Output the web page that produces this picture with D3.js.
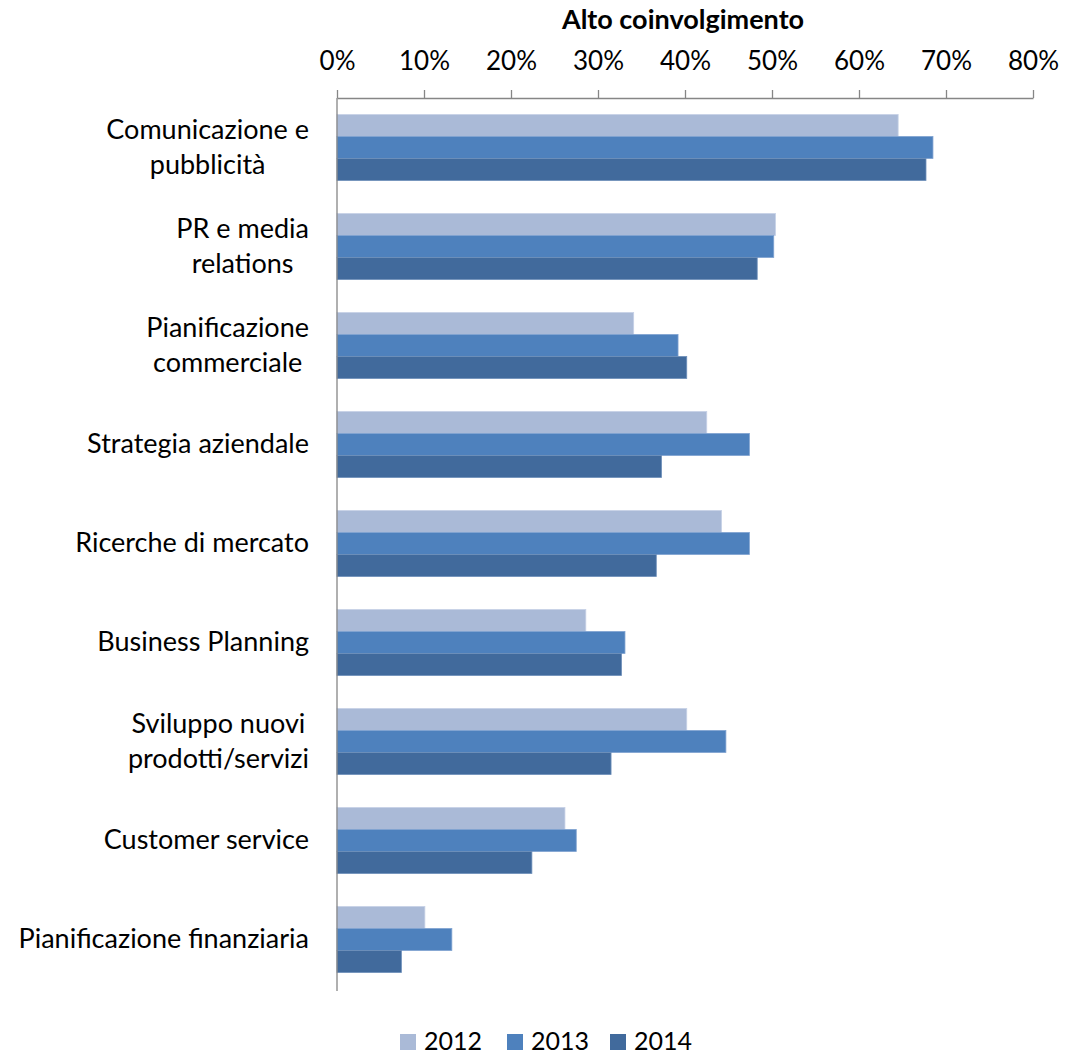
<!DOCTYPE html>
<html><head><meta charset="utf-8">
<script src="https://cdn.jsdelivr.net/npm/d3@7"></script>
<style>body{margin:0;background:#fff;} svg{display:block;}</style>
</head><body>
<svg id="c" width="1076" height="1056"></svg>
<script>
const categories = [
  ["Comunicazione e", "pubblicità"],
  ["PR e media", "relations"],
  ["Pianificazione", "commerciale"],
  ["Strategia aziendale"],
  ["Ricerche di mercato"],
  ["Business Planning"],
  ["Sviluppo nuovi ", "prodotti/servizi"],
  ["Customer service"],
  ["Pianificazione finanziaria"]
];
const seriesNames = ["2012", "2013", "2014"];
const values2012 = [64.5, 50.4, 34.1, 42.5, 44.2, 28.6, 40.2, 26.2, 10.1];
const values2013 = [68.5, 50.2, 39.2, 47.4, 47.4, 33.1, 44.7, 27.5, 13.2];
const values2014 = [67.7, 48.3, 40.2, 37.3, 36.7, 32.7, 31.5, 22.4, 7.4];
const tickValues = [0, 10, 20, 30, 40, 50, 60, 70, 80];
const title = "Alto coinvolgimento";

const colors = ["#AABAD7", "#4E81BD", "#416A9C"];
const strokes = ["#C6D1E6", "#7FA2D0", "#6E8FBA"];
const series = [values2012, values2013, values2014];
const FONT = "Lato, 'Open Sans', sans-serif";

const svg = d3.select("#c");
const pLeft = 337, pRight = 1033, pTop = 98, pBottom = 989;

const x = d3.scaleLinear().domain([0, 80]).range([pLeft, pRight]);
const y = d3.scaleBand().domain(d3.range(categories.length)).range([pTop, pBottom])
  .paddingInner(1/3).paddingOuter(1/6);
const ys = d3.scaleBand().domain(d3.range(3)).range([0, y.bandwidth()]);

// bars
series.forEach((vals, si) => {
  svg.append("g").selectAll("rect").data(vals).join("rect")
    .attr("x", x(0))
    .attr("y", (d, i) => y(i) + ys(si))
    .attr("width", d => x(d) - x(0))
    .attr("height", ys.bandwidth())
    .attr("fill", colors[si])
    .attr("stroke", strokes[si])
    .attr("stroke-width", 0.8);
});

// top axis
const axis = d3.axisTop(x).tickValues(tickValues).tickFormat(d => d + "%").tickSize(8).tickSizeOuter(0);
const ag = svg.append("g").attr("transform", `translate(0,${pTop})`).call(axis);
ag.select(".domain").attr("stroke", "#868686").attr("stroke-width", 1.3);
ag.selectAll(".tick line").attr("stroke", "#868686").attr("stroke-width", 1.3);
ag.selectAll(".tick text").attr("font-family", FONT).attr("font-size", 26).attr("fill", "#000")
  .attr("y", -28).attr("dy", "0");

// vertical axis line
svg.append("line").attr("x1", pLeft).attr("x2", pLeft).attr("y1", pTop).attr("y2", pBottom + 2)
  .attr("stroke", "#868686").attr("stroke-width", 1.3);

// title
svg.append("text").attr("x", (pLeft + pRight) / 2 - 2).attr("y", 29).attr("text-anchor", "middle")
  .attr("font-family", FONT).attr("font-weight", "bold").attr("font-size", 27).text(title);

// category labels
const labelRight = 309;
categories.forEach((lines, i) => {
  const cy = y(i) + y.bandwidth() / 2;
  const g = svg.append("g");
  const lh = 35;
  const texts = lines.map((ln, k) => g.append("text")
    .attr("font-family", FONT).attr("font-size", 27).attr("fill", "#000")
    .attr("y", cy + (k - (lines.length - 1) / 2) * lh)
    .attr("dy", "0.33em")
    .text(ln));
  const maxW = d3.max(texts, t => t.node().getComputedTextLength());
  texts.forEach(t => t.attr("x", labelRight - maxW / 2).attr("text-anchor", "middle"));
});

// legend
const legendX = [400, 507, 610];
seriesNames.forEach((name, i) => {
  svg.append("rect").attr("x", legendX[i]).attr("y", 1034).attr("width", 16).attr("height", 16)
    .attr("fill", colors[i]);
  svg.append("text").attr("x", legendX[i] + 24).attr("y", 1050)
    .attr("font-family", FONT).attr("font-size", 25).text(name);
});
</script>
</body></html>
